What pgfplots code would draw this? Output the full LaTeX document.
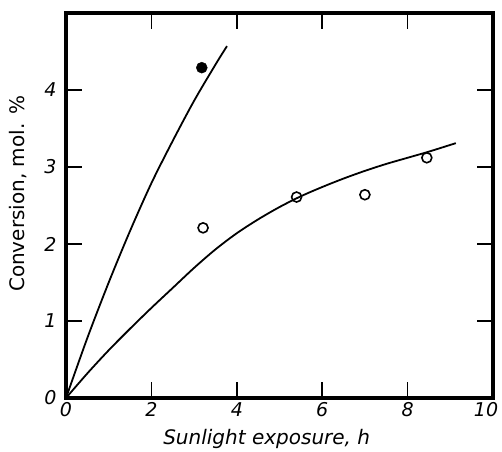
\documentclass[border=0pt]{standalone}
\usepackage{fontspec}
\setmainfont{DejaVu Sans}
\usepackage{pgfplots}
\pgfplotsset{compat=1.18}

\begin{document}
\begin{tikzpicture}
\useasboundingbox (-66pt,-53pt) rectangle (436pt,398pt);
\begin{axis}[at={(0,0)},anchor=south west,scale only axis,
  width=427pt,height=385pt,
  xmin=0,xmax=10,ymin=0,ymax=5,
  xtick={0,2,...,10},ytick={0,1,2,3,4},
  xticklabels={0,2,4,6,8,{\kern-14pt 10}},
  tick align=inside,major tick length=16pt,
  tick style={line width=1.6pt,black},
  axis line style={line width=3.5pt},
  /pgf/number format/assume math mode=true,
  ticklabel style={font=\fontsize{19}{19}\selectfont\itshape},
  yticklabel style={xshift=-6pt},
  xticklabel style={yshift=-1pt},
  label style={font=\fontsize{20}{20}\selectfont},
  xlabel={\itshape Sunlight exposure, h},
  ylabel={Conversion, mol. \%},
  x label style={at={(axis description cs:0.47,-0.107)},anchor=center},
  y label style={at={(axis description cs:-0.112,0.53)},anchor=center},
]
% steeper curve (filled point)
\addplot[line width=1.8pt,smooth] coordinates {
 (0,0) (0.5,0.78) (1,1.5) (1.5,2.17) (2,2.79) (2.5,3.34) (3,3.86) (3.5,4.33) (3.77,4.57)};
% flatter curve (open points)
\addplot[line width=1.8pt,smooth] coordinates {
 (0,0) (0.5,0.32) (1,0.62) (1.5,0.9) (2,1.17) (2.5,1.43) (3,1.69) (3.5,1.93)
 (4,2.14) (4.5,2.32) (5,2.48) (5.5,2.62) (6,2.74) (6.5,2.85) (7,2.95)
 (7.5,3.04) (8,3.12) (8.5,3.2) (9.13,3.31)};
\addplot[only marks,mark=*,mark size=5.5pt,mark options={fill=black}] coordinates {(3.18,4.29)};
\addplot[only marks,mark=o,mark size=5pt,mark options={line width=1.6pt}] coordinates {
 (3.21,2.21) (5.40,2.61) (7.0,2.64) (8.45,3.12)};
\end{axis}
\end{tikzpicture}
\end{document}
